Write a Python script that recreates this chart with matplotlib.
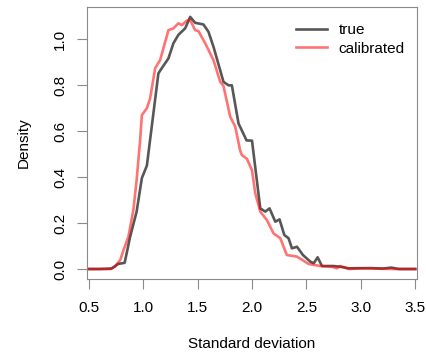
import numpy as np
import matplotlib
matplotlib.use("Agg")
import matplotlib.pyplot as plt

# density of the standard deviation
true_x = [0.5, 0.6, 0.71, 0.77, 0.83, 0.88, 0.94, 0.988, 1.034, 1.14, 1.17,
          1.232, 1.278, 1.324, 1.386, 1.432, 1.478, 1.554, 1.60, 1.646, 1.738,
          1.784, 1.815, 1.876, 1.95, 2.0, 2.076, 2.122, 2.161, 2.214, 2.253,
          2.297, 2.336, 2.367, 2.413, 2.468, 2.536, 2.567, 2.603, 2.643, 2.75,
          2.81, 2.89, 3.09, 3.2, 3.28, 3.35, 3.5]
true_y = [0.0, 0.0, 0.002, 0.022, 0.027, 0.14, 0.25, 0.396, 0.45, 0.852, 0.874,
          0.917, 0.983, 1.02, 1.048, 1.098, 1.072, 1.065, 1.033, 0.968, 0.815,
          0.80, 0.80, 0.634, 0.56, 0.559, 0.264, 0.25, 0.264, 0.206, 0.216,
          0.148, 0.134, 0.09, 0.097, 0.061, 0.032, 0.025, 0.051, 0.013, 0.013,
          0.01, 0.003, 0.004, 0.002, 0.006, 0.0, 0.0]

cal_x = [0.5, 0.696, 0.74, 0.79, 0.82, 0.864, 0.91, 0.94, 0.972, 0.988, 1.034,
         1.064, 1.11, 1.156, 1.232, 1.278, 1.324, 1.355, 1.40, 1.432, 1.478,
         1.508, 1.57, 1.646, 1.708, 1.738, 1.80, 1.846, 1.89, 1.907, 1.953,
         2.0, 2.03, 2.076, 2.137, 2.198, 2.26, 2.32, 2.413, 2.52, 2.628, 2.73,
         2.78, 2.81, 2.89, 3.0, 3.3, 3.5]
cal_y = [0.0, 0.0, 0.01, 0.04, 0.083, 0.14, 0.257, 0.387, 0.56, 0.67, 0.70,
         0.743, 0.874, 0.91, 1.04, 1.048, 1.07, 1.062, 1.081, 1.084, 1.04,
         1.036, 0.983, 0.91, 0.815, 0.797, 0.663, 0.62, 0.518, 0.496, 0.48,
         0.43, 0.33, 0.25, 0.213, 0.155, 0.134, 0.061, 0.054, 0.022, 0.013, 0.01,
         0.003, 0.013, 0.0, 0.003, 0.0, 0.0]

xticks = [0.5, 1.0, 1.5, 2.0, 2.5, 3.0, 3.5]
yticks = [0.0, 0.2, 0.4, 0.6, 0.8, 1.0]

plt.rcParams['font.family'] = ['Liberation Sans', 'DejaVu Sans']
plt.rcParams['font.size'] = 11

fig = plt.figure(figsize=(4.27, 3.56), dpi=100)
ax = fig.add_axes([87/427, 1 - 279/356, 330/427, 272/356])

ax.plot(true_x, true_y, color=(0, 0, 0, 0.66), lw=1.9, label='true')
ax.plot(cal_x, cal_y, color=(1, 0, 0, 0.55), lw=1.9, label='calibrated')

ax.set_xlim(0.484, 3.516)
ax.set_ylim(-0.0435, 1.141)
ax.set_xticks(xticks)
ax.set_xticklabels([f"{v:.1f}" for v in xticks])
ax.set_yticks(yticks)
ax.set_yticklabels([f"{v:.1f}" for v in yticks])

axcol = '#8a8a8a'
for s in ax.spines.values():
    s.set_color(axcol)
    s.set_linewidth(0.8)
ax.tick_params(axis='both', colors=axcol, labelcolor='black', length=7.2,
               width=0.8, labelsize=11)
ax.tick_params(axis='x', pad=8.5)
ax.tick_params(axis='y', pad=7, labelrotation=90)
for t in ax.get_yticklabels():
    t.set_va('center')

ax.set_xlabel('Standard deviation', fontsize=11)
ax.set_ylabel('Density', fontsize=11)
ax.xaxis.set_label_coords(0.5, -0.213)
ax.yaxis.set_label_coords(-0.17, 0.5)

ax.legend(loc='upper left', bbox_to_anchor=(296/427, 1 - 23/356),
          bbox_transform=fig.transFigure, frameon=False, fontsize=11,
          handlelength=2.0, handletextpad=0.8, labelspacing=0.3,
          borderpad=0, borderaxespad=0)

fig.savefig('out.png', dpi=100)
